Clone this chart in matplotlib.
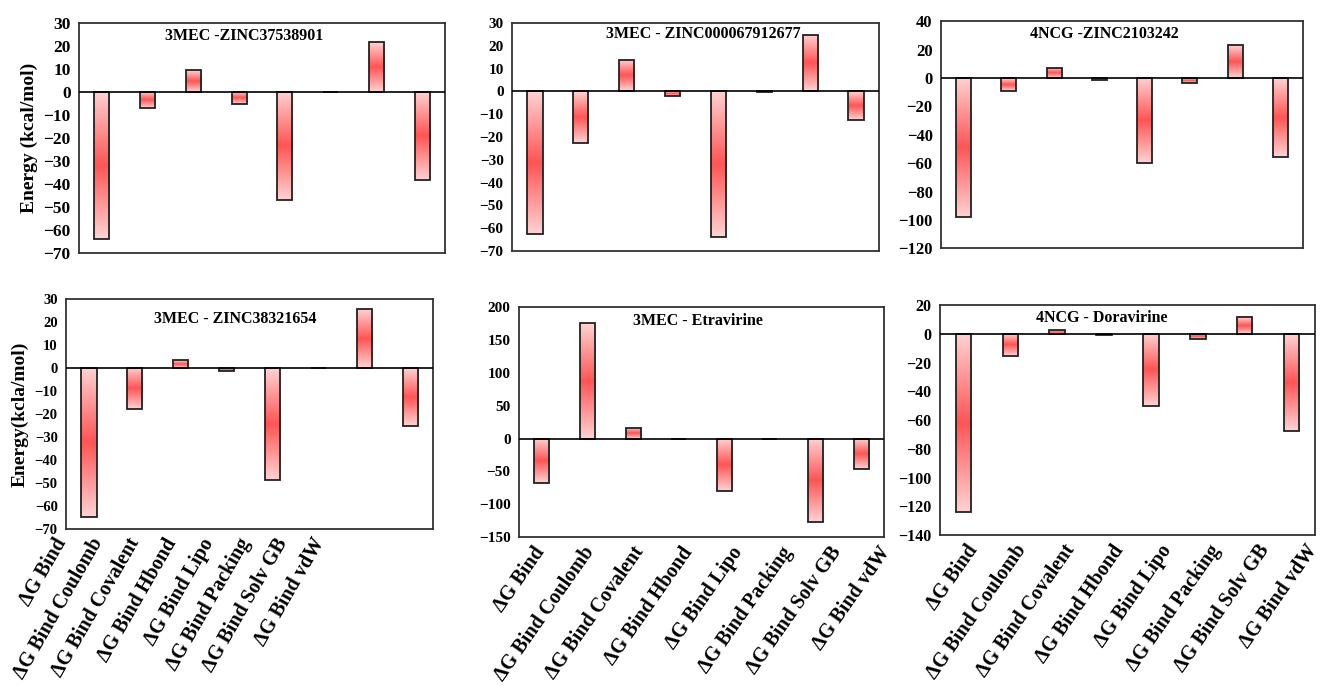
import numpy as np
import matplotlib.pyplot as plt
from matplotlib.colors import LinearSegmentedColormap

plt.rcParams['font.family'] = ['Liberation Serif', 'DejaVu Serif']
plt.rcParams['font.weight'] = 'bold'

# =============================================================================
# DATA
# =============================================================================

terms = ['ΔG Bind', 'ΔG Bind Coulomb', 'ΔG Bind Covalent', 'ΔG Bind Hbond',
         'ΔG Bind Lipo', 'ΔG Bind Packing', 'ΔG Bind Solv GB', 'ΔG Bind vdW']

zinc37538901 = [-64, -7, 9.5, -5.4, -47, 0, 21.7, -38.4]
zinc000067912677 = [-62.3, -22.5, 13.6, -1.9, -63.9, -0.3, 24.8, -12.6]
zinc2103242 = [-98, -8.9, 7.3, -1.2, -60, -3.3, 23.2, -55.5]
zinc38321654 = [-64.8, -18, 3.3, -1.2, -48.6, 0, 25.4, -25.1]
etravirine = [-67, 175.5, 16.8, -1, -80, 0, -127, -46.8]
doravirine = [-124, -15.8, 2.3, -0.7, -50.3, -3.5, 11.8, -67.3]

titles = ['3MEC -ZINC37538901', '3MEC - ZINC000067912677', '4NCG -ZINC2103242',
          '3MEC - ZINC38321654', '3MEC - Etravirine', '4NCG - Doravirine']
series = [zinc37538901, zinc000067912677, zinc2103242,
          zinc38321654, etravirine, doravirine]
ylims = [(-70, 30), (-70, 30), (-120, 40), (-70, 30), (-150, 200), (-140, 20)]
ysteps = [10, 10, 20, 10, 50, 20]

# =============================================================================
# LAYOUT (figure fractions) AND TEXT PLACEMENT
# =============================================================================

boxes = [[0.0597, 0.631, 0.2767, 0.3355],
         [0.3870, 0.634, 0.2774, 0.3325],
         [0.7113, 0.638, 0.2736, 0.3310],
         [0.0499, 0.229, 0.2774, 0.3355],
         [0.3923, 0.217, 0.2759, 0.3353],
         [0.7105, 0.220, 0.2835, 0.3354]]
tick_size = [12.5, 11, 12, 10.5, 11, 11.5]
title_pos = [(0.45, 0.945), (0.52, 0.95), (0.45, 0.945),
             (0.46, 0.91), (0.49, 0.94), (0.43, 0.945)]
ylabels = ['Energy (kcal/mol)', None, None, 'Energy(kcla/mol)', None, None]
# category label placement: (start, spacing, rotation) in axes fraction
label_fit = {3: (-0.035, 0.1005, 60), 4: (0.038, 0.1353, 55), 5: (0.068, 0.1296, 55)}

cmap = LinearSegmentedColormap.from_list('bar', ['#ffd2d2', '#ff5555'])
grad = 1 - np.abs(np.linspace(-1, 1, 200))[:, None]

fig = plt.figure(figsize=(13.23, 6.86), dpi=100)

for i in range(6):
    ax = fig.add_axes(boxes[i])
    x = np.arange(len(terms))
    vals = series[i]
    bars = ax.bar(x, vals, width=0.33, facecolor='none', edgecolor='#222222',
                  linewidth=1.3, zorder=3)
    for b in bars:
        x0, y0 = b.get_x(), b.get_y()
        w, h = b.get_width(), b.get_height()
        if h == 0:
            continue
        im = ax.imshow(grad, cmap=cmap, aspect='auto', zorder=2,
                       extent=[x0, x0 + w, min(y0, y0 + h), max(y0, y0 + h)])
        im.set_clip_path(b)
    ax.axhline(0, color='black', linewidth=1.2, zorder=4)
    ax.set_xlim(-0.5, len(terms) - 0.5)
    ax.set_ylim(*ylims[i])
    ax.set_yticks(np.arange(ylims[i][0], ylims[i][1] + 1, ysteps[i]))
    ax.tick_params(length=0, labelsize=tick_size[i], pad=6)
    ax.set_xticks([])
    for s in ax.spines.values():
        s.set_linewidth(1.3)
        s.set_color('#333333')
    if i in label_fit:
        a, step, rot = label_fit[i]
        for k, t in enumerate(terms):
            ax.text(a + step * k, -0.025, t, transform=ax.transAxes, rotation=rot,
                    ha='right', va='top', rotation_mode='anchor',
                    fontsize=14.5, fontweight='bold')
    ax.text(title_pos[i][0], title_pos[i][1], titles[i], transform=ax.transAxes,
            ha='center', va='center', fontsize=11.5, fontweight='bold', zorder=5)
    if ylabels[i]:
        ax.set_ylabel(ylabels[i], fontsize=14, fontweight='bold', labelpad=4)

fig.savefig('out.png', dpi=100)
